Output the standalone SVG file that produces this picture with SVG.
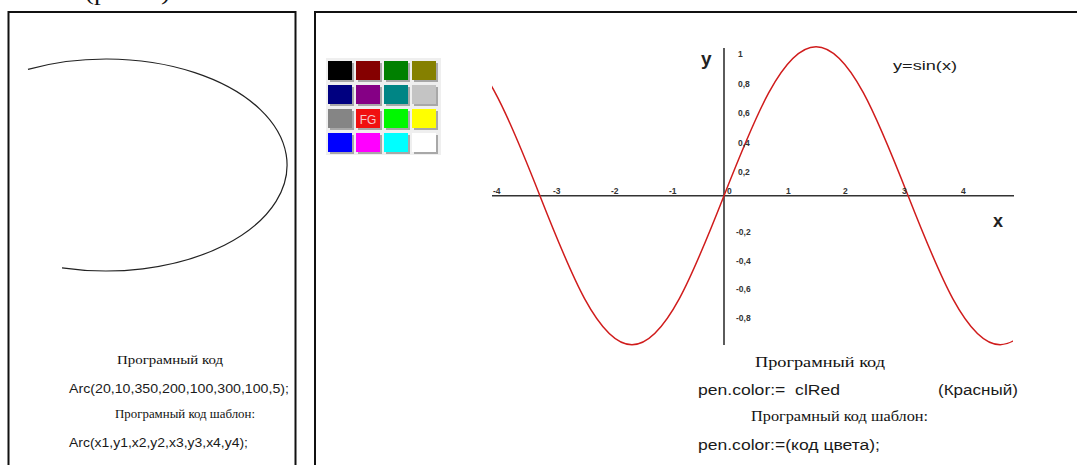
<svg xmlns="http://www.w3.org/2000/svg" width="1077" height="465" viewBox="0 0 1077 465">
<style>
.frame{fill:none;stroke:#111;stroke-width:2}
.serif{font-family:"Liberation Serif","Times New Roman",serif;fill:#111}
.sans{font-family:"Liberation Sans",Arial,sans-serif;fill:#1a1a1a}
.tick{font-family:"Liberation Sans",Arial,sans-serif;font-size:8.5px;font-weight:bold;fill:#333}
.axis{stroke:#333;stroke-width:1.6;fill:none}
.cell{stroke:none}
.sh{fill:#a8a8a8}
</style>
<defs>
<clipPath id="plotclip"><rect x="492" y="40" width="521" height="310"/></clipPath>
</defs>
<rect width="1077" height="465" fill="#fff"/>
<text class="serif" x="85" y="-0.5" font-size="20" textLength="85" lengthAdjust="spacingAndGlyphs">(рис. 1)</text>

<g id="left-panel">
<rect class="frame" x="8.5" y="12" width="287" height="470"/>
<path d="M 28 69.35 A 181 106 0 1 1 62 267.8" fill="none" stroke="#222" stroke-width="1.2"/>
<text class="serif" x="117" y="364" font-size="12.5" textLength="106" lengthAdjust="spacingAndGlyphs">Програмный код</text>
<text class="sans" x="69" y="393" font-size="13" textLength="220" lengthAdjust="spacingAndGlyphs">Arc(20,10,350,200,100,300,100,5);</text>
<text class="serif" x="115" y="418" font-size="12.5" textLength="140" lengthAdjust="spacingAndGlyphs">Програмный код шаблон:</text>
<text class="sans" x="69" y="447" font-size="13" textLength="179" lengthAdjust="spacingAndGlyphs">Arc(x1,y1,x2,y2,x3,y3,x4,y4);</text>
</g>

<g id="right-panel">
<rect class="frame" x="315" y="12" width="800" height="470"/>
</g>

<g id="palette">
<rect x="326" y="58" width="115" height="97" fill="#efefef"/>
<rect class="sh" x="330" y="63" width="24" height="19"/>
<rect class="sh" x="358" y="63" width="24" height="19"/>
<rect class="sh" x="386" y="63" width="24" height="19"/>
<rect class="sh" x="414" y="63" width="24" height="19"/>
<rect class="sh" x="330" y="87" width="24" height="19"/>
<rect class="sh" x="358" y="87" width="24" height="19"/>
<rect class="sh" x="386" y="87" width="24" height="19"/>
<rect class="sh" x="414" y="87" width="24" height="19"/>
<rect class="sh" x="330" y="111" width="24" height="19"/>
<rect class="sh" x="358" y="111" width="24" height="19"/>
<rect class="sh" x="386" y="111" width="24" height="19"/>
<rect class="sh" x="414" y="111" width="24" height="19"/>
<rect class="sh" x="330" y="135" width="24" height="19"/>
<rect class="sh" x="358" y="135" width="24" height="19"/>
<rect class="sh" x="386" y="135" width="24" height="19"/>
<rect class="sh" x="414" y="135" width="24" height="19"/>
<rect class="cell" x="328" y="61" width="24" height="19" fill="#000000"/>
<rect class="cell" x="356" y="61" width="24" height="19" fill="#850000"/>
<rect class="cell" x="384" y="61" width="24" height="19" fill="#008000"/>
<rect class="cell" x="412" y="61" width="24" height="19" fill="#858000"/>
<rect class="cell" x="328" y="85" width="24" height="19" fill="#000080"/>
<rect class="cell" x="356" y="85" width="24" height="19" fill="#850085"/>
<rect class="cell" x="384" y="85" width="24" height="19" fill="#008585"/>
<rect class="cell" x="412" y="85" width="24" height="19" fill="#c4c4c4"/>
<rect class="cell" x="328" y="109" width="24" height="19" fill="#858585"/>
<rect class="cell" x="356" y="109" width="24" height="19" fill="#f01010"/>
<rect class="cell" x="384" y="109" width="24" height="19" fill="#00f800"/>
<rect class="cell" x="412" y="109" width="24" height="19" fill="#ffff00"/>
<rect class="cell" x="328" y="133" width="24" height="19" fill="#0000ff"/>
<rect class="cell" x="356" y="133" width="24" height="19" fill="#ff00ff"/>
<rect class="cell" x="384" y="133" width="24" height="19" fill="#00ffff"/>
<rect class="cell" x="412" y="133" width="24" height="19" fill="#ffffff"/>
<text x="368" y="123.5" font-family="Liberation Sans,Arial,sans-serif" font-size="12" fill="#f4c8c8" text-anchor="middle">FG</text>
</g>

<g id="graph">
<line class="axis" x1="492" y1="195.7" x2="1014" y2="195.7"/>
<line class="axis" x1="724" y1="48" x2="724" y2="345"/>
<path clip-path="url(#plotclip)" fill="none" stroke="#d01c1c" stroke-width="1.5" d="M 447.85 46.7 C 481.16 46.7 509.88 119.37 539.9 195.7 C 569.92 272.03 598.64 344.7 631.95 344.7 C 665.26 344.7 693.98 272.03 724 195.7 C 754.02 119.37 782.74 46.7 816.05 46.7 C 849.36 46.7 878.08 119.37 908.1 195.7 C 938.12 272.03 966.84 344.7 1000.15 344.7 C 1033.46 344.7 1062.18 272.03 1092.2 195.7"/>
<g class="tick">
<text x="493" y="194">-4</text>
<text x="553" y="194">-3</text>
<text x="611" y="194">-2</text>
<text x="669" y="194">-1</text>
<text x="727" y="194">0</text>
<text x="786" y="194">1</text>
<text x="843" y="194">2</text>
<text x="902" y="194">3</text>
<text x="961" y="194">4</text>
<text x="738" y="57">1</text>
<text x="738" y="87">0,8</text>
<text x="738" y="116">0,6</text>
<text x="738" y="146">0,4</text>
<text x="738" y="175">0,2</text>
<text x="736" y="235">-0,2</text>
<text x="736" y="264">-0,4</text>
<text x="736" y="292">-0,6</text>
<text x="736" y="321">-0,8</text>
</g>
<text x="701" y="65" font-family="Liberation Sans,Arial,sans-serif" font-size="19" font-weight="bold" fill="#222">y</text>
<text x="993" y="227" font-family="Liberation Sans,Arial,sans-serif" font-size="18" font-weight="bold" fill="#222">x</text>
<text class="sans" x="893" y="70" font-size="13" textLength="64" lengthAdjust="spacingAndGlyphs">y=sin(x)</text>
</g>

<g id="right-text">
<text class="serif" x="755" y="367" font-size="14.5" textLength="130" lengthAdjust="spacingAndGlyphs">Програмный код</text>
<text class="sans" x="698" y="395" font-size="14" textLength="142" lengthAdjust="spacingAndGlyphs" xml:space="preserve">pen.color:=  clRed</text>
<text class="sans" x="938" y="395" font-size="14" textLength="80" lengthAdjust="spacingAndGlyphs">(Красный)</text>
<text class="serif" x="751" y="421" font-size="14.5" textLength="177" lengthAdjust="spacingAndGlyphs">Програмный код шаблон:</text>
<text class="sans" x="698" y="450" font-size="14" textLength="182" lengthAdjust="spacingAndGlyphs">pen.color:=(код цвета);</text>
</g>
</svg>
